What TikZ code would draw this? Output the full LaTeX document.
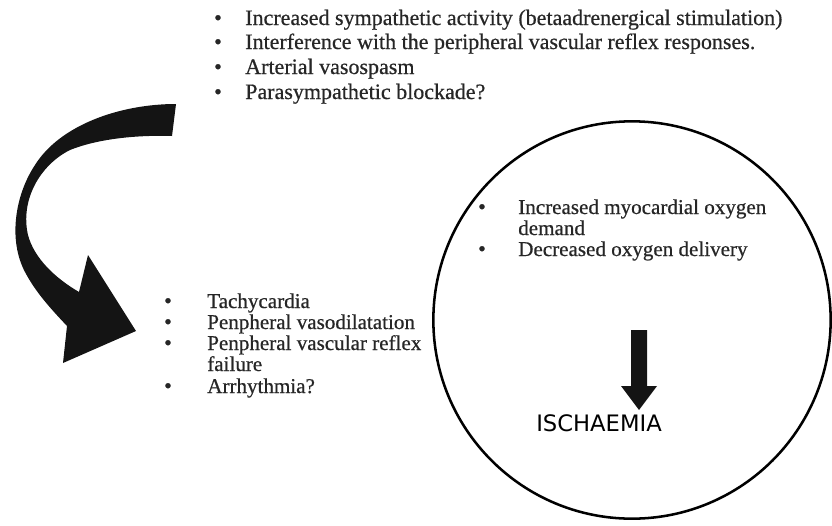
\documentclass[tikz,border=0pt]{standalone}
\usepackage{fontspec}
\setmainfont{Liberation Serif}[FakeBold=0.6]
\newfontfamily\ischfont{DejaVu Sans}
\begin{document}
\begin{tikzpicture}[x=0.75pt,y=-0.75pt,
  txt/.style={anchor=base west,inner sep=0pt,font=\fontsize{16.5}{18}\selectfont,text=black!85},
  txts/.style={txt,font=\fontsize{15.8}{18}\selectfont},
  bul/.style={anchor=base,inner sep=0pt,font=\fontsize{16.5}{18}\selectfont,text=black!85},
  ring/.style={draw=black,line width=1.9pt},
  blk/.style={fill=black!92,draw=none}]
\useasboundingbox (0,0) rectangle (832,525);
% top list
\node[bul] (b1) at (218,25) {\textbullet};
\node[txt] (t1) at (245,25) {Increased sympathetic activity (betaadrenergical stimulation)};
\node[bul] (b2) at (218,49) {\textbullet};
\node[txt] (t2) at (245,49) {Interference with the peripheral vascular reflex responses.};
\node[bul] (b3) at (218,74) {\textbullet};
\node[txt] (t3) at (245,74) {Arterial vasospasm};
\node[bul] (b4) at (218,99) {\textbullet};
\node[txt] (t4) at (245,99) {Parasympathetic blockade?};
% curved arrow
\fill[blk] (176,104) .. controls (120,104) and (60,125) .. (35,165)
  .. controls (15,195) and (8,240) .. (25,272)
  .. controls (36,293) and (52,310) .. (67,326)
  -- (63,363) -- (136,331) -- (88,255) -- (79,292)
  .. controls (55,278) and (34,258) .. (28,235)
  .. controls (20,200) and (40,165) .. (70,150)
  .. controls (100,138) and (140,135) .. (172,136) -- cycle;
% left list
\node[bul] (l1) at (168,308) {\textbullet};
\node[txts] (m1) at (207,308) {Tachycardia};
\node[bul] (l2) at (168,329) {\textbullet};
\node[txts] (m2) at (207,329) {Penpheral vasodilatation};
\node[bul] (l3) at (168,350) {\textbullet};
\node[txts] (m3) at (207,350) {Penpheral vascular reflex};
\node[txts] (m4) at (207,371) {failure};
\node[bul] (l5) at (168,393) {\textbullet};
\node[txts] (m5) at (207,393) {Arrhythmia?};
% circle
\node[ring,circle,minimum size=298pt,inner sep=0pt] (c) at (632,320) {};
% circle list
\node[bul] (c1) at (482,214) {\textbullet};
\node[txts] (d1) at (518,214) {Increased myocardial oxygen};
\node[txts] (d2) at (518,235) {demand};
\node[bul] (c3) at (482,256) {\textbullet};
\node[txts] (d3) at (518,256) {Decreased oxygen delivery};
% down arrow
\fill[blk] (631,330) -- (647,330) -- (647,386) -- (657,386) -- (639,410) -- (621,386) -- (631,386) -- cycle;
\node[anchor=base west,inner sep=0pt,font=\ischfont\fontsize{17}{20}\selectfont] (isch) at (536,431) {ISCHAEMIA};
\end{tikzpicture}
\end{document}
